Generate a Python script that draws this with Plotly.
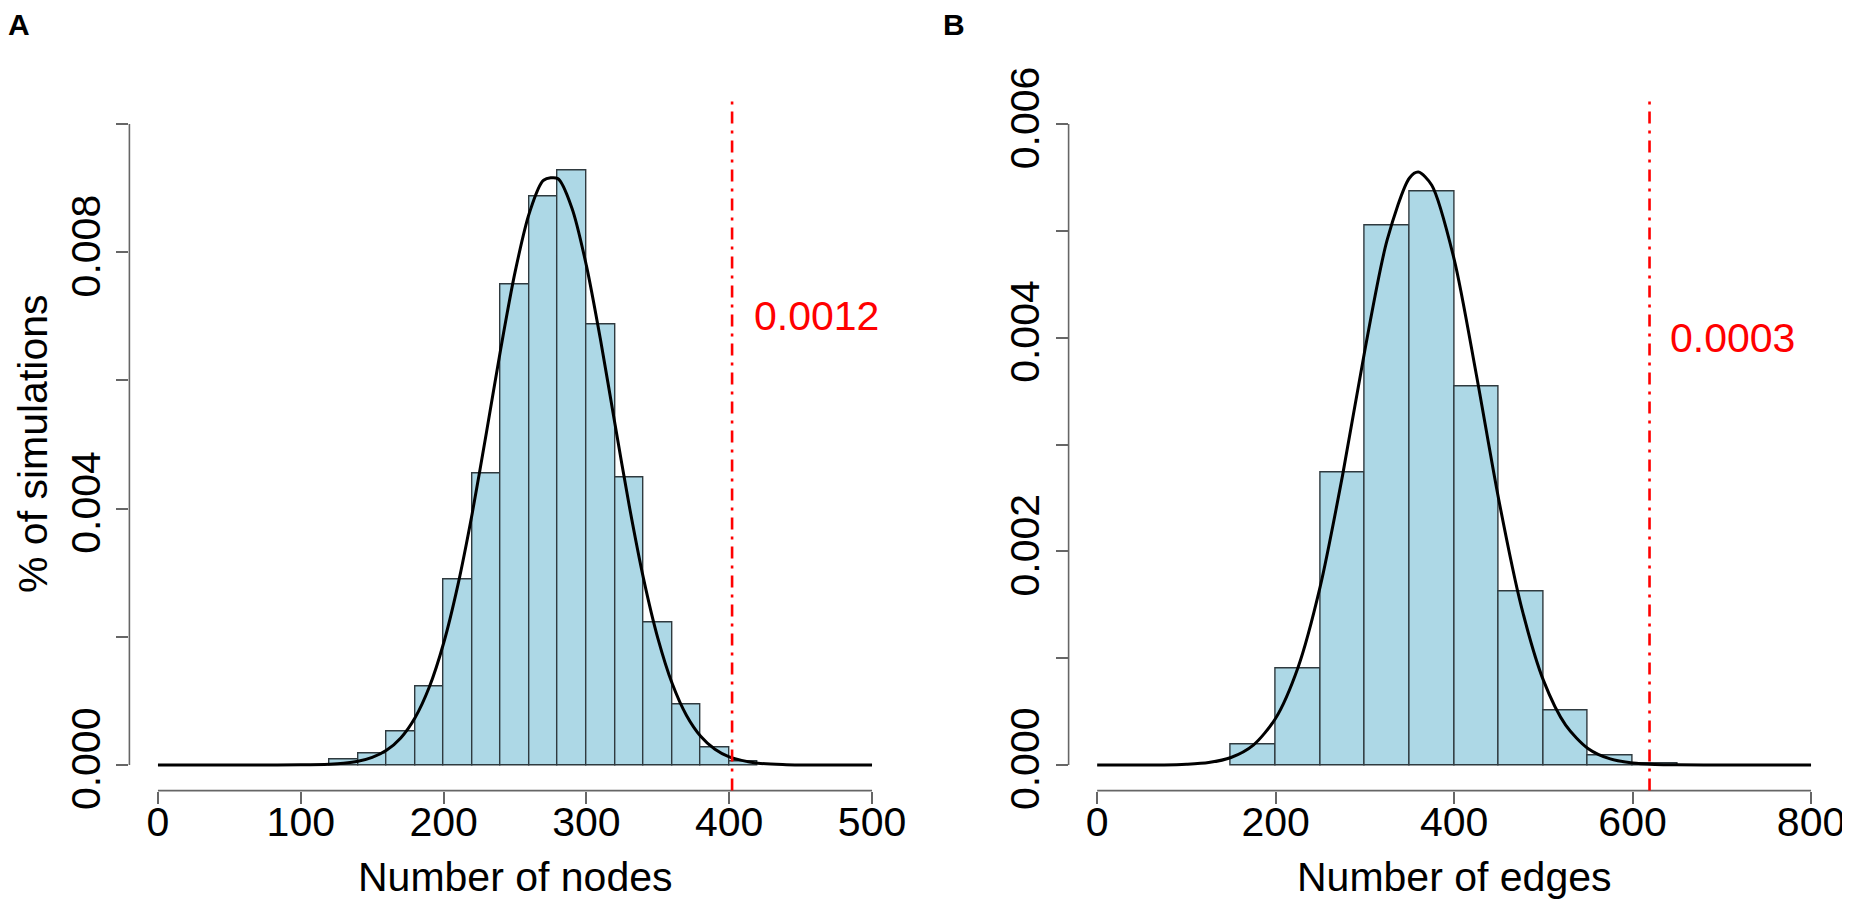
import plotly.graph_objects as go

# ---- panel A: number of nodes ----
nodes_edges = [120, 140, 160, 180, 200, 220, 240, 260, 280, 300, 320, 340, 360, 380, 400, 420]
nodes_density = [0.00008, 0.00018, 0.00052, 0.00122, 0.0029, 0.00455, 0.0075, 0.00887,
                 0.00927, 0.00687, 0.00449, 0.00222, 0.00095, 0.00028, 0.00005]
nodes_curve_x = [0, 80, 100, 120, 130, 140, 150, 160, 170, 180, 190, 200, 210, 220, 230, 240,
                 250, 260, 270, 280, 290, 300, 310, 320, 330, 340, 350, 360, 370, 380, 390,
                 400, 420, 440, 460, 500]
nodes_curve_y = [0, 0.0000001, 0.0000018, 0.0000114, 0.0000262, 0.000057, 0.000118, 0.000229,
                 0.000422, 0.000737, 0.001216, 0.001899, 0.002807, 0.003921, 0.005187, 0.006491,
                 0.007685, 0.008608, 0.009123, 0.009149, 0.00868, 0.007791, 0.006618, 0.005318,
                 0.004043, 0.002908, 0.00198, 0.001275, 0.000777, 0.000448, 0.000244,
                 0.000126, 0.0000284, 0.0000051, 0.0000006, 0]
nodes_observed = 402
nodes_pvalue = "0.0012"
nodes_xticks = [0, 100, 200, 300, 400, 500]
nodes_yticks = [0, 0.002, 0.004, 0.006, 0.008, 0.010]
nodes_ytext = ["0.000", "", "0.004", "", "0.008", ""]

# ---- panel B: number of edges ----
edges_edges = [150, 200, 250, 300, 350, 400, 450, 500, 550, 600, 650]
edges_density = [0.00019, 0.0009, 0.00274, 0.00505, 0.00537, 0.00354, 0.001625, 0.00051,
                 0.00009, 0.00001]
edges_curve_x = [0, 75, 100, 125, 150, 175, 200, 225, 250, 275, 300, 325, 350, 360, 375, 400,
                 425, 450, 475, 500, 525, 550, 575, 600, 625, 650, 700, 800]
edges_curve_y = [0, 0.0000004, 0.0000068, 0.0000232, 0.0000699, 0.000186, 0.000438, 0.000911,
                 0.001672, 0.002711, 0.003883, 0.004915, 0.005495, 0.00555, 0.005427, 0.004736,
                 0.00365, 0.002485, 0.001495, 0.000794, 0.000373, 0.000155, 0.0000567,
                 0.0000183, 0.0000052, 0.0000013, 0, 0]
edges_observed = 619
edges_pvalue = "0.0003"
edges_xticks = [0, 200, 400, 600, 800]
edges_yticks = [0, 0.001, 0.002, 0.003, 0.004, 0.005, 0.006]
edges_ytext = ["0.000", "", "0.002", "", "0.004", "", "0.006"]

FONT = "Liberation Sans, Arial, sans-serif"
BAR_FILL = "#ADD8E6"
BAR_LINE = "#2f3a3f"
AXIS_GREY = "#666666"
TXT = 41

W, H = 1850, 909
OFF = 8  # the page body adds an 8px margin around the figure


def px(x):
    return (x - OFF) / W


def py(y):
    return (H - (y - OFF)) / H


x_dom_a = [px(129.4), px(900.6)]
x_dom_b = [px(1068.6), px(1839.6)]
y_dom = [py(790.6), py(98.4)]


def hist_trace(edges, dens, xa, ya):
    centers = [(a + b) / 2 for a, b in zip(edges[:-1], edges[1:])]
    widths = [b - a for a, b in zip(edges[:-1], edges[1:])]
    return go.Bar(x=centers, y=dens, width=widths, xaxis=xa, yaxis=ya,
                  marker=dict(color=BAR_FILL, line=dict(color=BAR_LINE, width=1.4)),
                  showlegend=False, hoverinfo="x+y")


def curve_trace(xs, ys, xa, ya):
    return go.Scatter(x=xs, y=ys, mode="lines", xaxis=xa, yaxis=ya,
                      line=dict(color="black", width=3, shape="spline", smoothing=0.8),
                      showlegend=False)


fig = go.Figure()
fig.add_trace(hist_trace(nodes_edges, nodes_density, "x", "y"))
fig.add_trace(curve_trace(nodes_curve_x, nodes_curve_y, "x", "y"))
fig.add_trace(hist_trace(edges_edges, edges_density, "x2", "y2"))
fig.add_trace(curve_trace(edges_curve_x, edges_curve_y, "x2", "y2"))

tick_style = dict(showline=False, showgrid=False, zeroline=False, ticks="outside",
                  ticklen=12, tickwidth=1.5, tickcolor=AXIS_GREY, automargin=False,
                  tickfont=dict(family=FONT, size=TXT, color="black"))

fig.update_layout(
    width=W, height=H,
    margin=dict(l=0, r=0, t=0, b=0),
    paper_bgcolor="white", plot_bgcolor="white",
    bargap=0,
    font=dict(family=FONT, color="black"),
    xaxis=dict(domain=x_dom_a, range=[-20, 520], tickvals=nodes_xticks, anchor="y",
               ticklabelstandoff=-17, **tick_style),
    yaxis=dict(domain=y_dom, range=[-0.0004, 0.0104], tickvals=nodes_yticks,
               ticktext=nodes_ytext, tickangle=-90, anchor="x", **tick_style),
    xaxis2=dict(domain=x_dom_b, range=[-32, 832], tickvals=edges_xticks, anchor="y2",
                ticklabelstandoff=-17, **tick_style),
    yaxis2=dict(domain=y_dom, range=[-0.00024, 0.00624], tickvals=edges_yticks,
                ticktext=edges_ytext, tickangle=-90, anchor="x2", **tick_style),
)

# R-style axis lines that only run between the first and last tick
for xa, ya, xt, yt in [("x", "y", nodes_xticks, nodes_yticks),
                       ("x2", "y2", edges_xticks, edges_yticks)]:
    fig.add_shape(type="line", xref=xa, yref=ya + " domain", x0=xt[0], x1=xt[-1], y0=0, y1=0,
                  line=dict(color=AXIS_GREY, width=1.6))
    fig.add_shape(type="line", xref=xa + " domain", yref=ya, x0=0, x1=0, y0=yt[0], y1=yt[-1],
                  line=dict(color=AXIS_GREY, width=1.6))

# observed values (dot-dash like R's lty=4)
for xa, ya, obs in [("x", "y", nodes_observed), ("x2", "y2", edges_observed)]:
    fig.add_shape(type="line", xref=xa, yref=ya + " domain", x0=obs, x1=obs, y0=0, y1=1,
                  line=dict(color="red", width=2.6, dash="12px,7px,3px,7px"))

fig.add_annotation(xref="x", yref="y", x=416, y=0.0070, text=nodes_pvalue, showarrow=False,
                   xanchor="left", yanchor="middle", font=dict(size=TXT, color="red"))
fig.add_annotation(xref="x2", yref="y2", x=640, y=0.0040, text=edges_pvalue, showarrow=False,
                   xanchor="left", yanchor="middle", font=dict(size=TXT, color="red"))

# axis titles
fig.add_annotation(xref="x", yref="paper", x=250, y=py(877), text="Number of nodes",
                   showarrow=False, xanchor="center", yanchor="middle", font=dict(size=TXT))
fig.add_annotation(xref="x2", yref="paper", x=400, y=py(877), text="Number of edges",
                   showarrow=False, xanchor="center", yanchor="middle", font=dict(size=TXT))
fig.add_annotation(xref="paper", yref="paper", x=px(33), y=py(444),
                   text="% of simulations", textangle=-90, showarrow=False,
                   xanchor="center", yanchor="middle", font=dict(size=TXT))

# panel letters
fig.add_annotation(xref="paper", yref="paper", x=px(6), y=py(6), text="<b>A</b>",
                   showarrow=False, xanchor="left", yanchor="top", font=dict(size=30))
fig.add_annotation(xref="paper", yref="paper", x=px(941), y=py(6), text="<b>B</b>",
                   showarrow=False, xanchor="left", yanchor="top", font=dict(size=30))

fig.write_html("out.html")
